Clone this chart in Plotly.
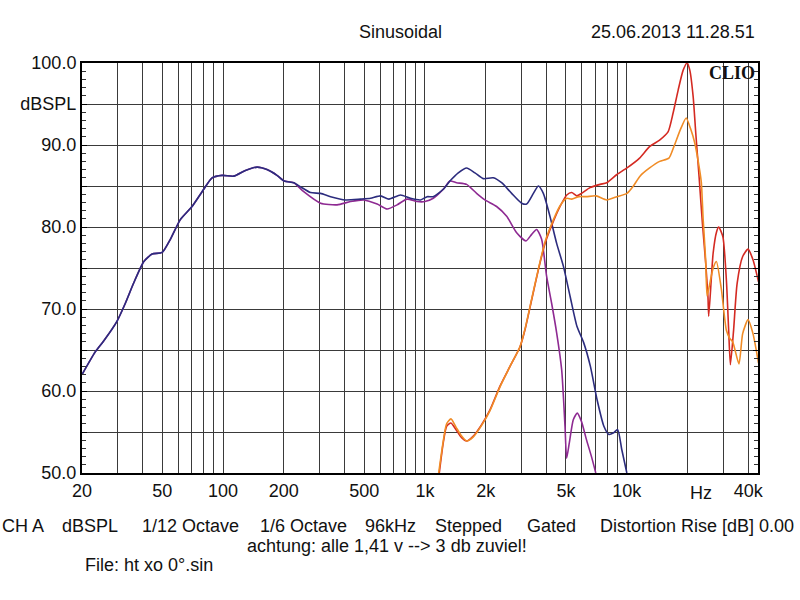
import math
import plotly.graph_objects as go

# ---------------- data ----------------
blue_f = [20, 23.3, 25.6, 29.8, 32.8, 36.1, 40.5, 44.5, 49.9, 54.8, 61.4, 70.2, 80.2, 88.2, 98.9,
          112.9, 129, 147.5, 165, 185, 201, 224, 242, 271, 304, 341, 404, 480, 538, 603, 663, 757,
          848, 952, 1025, 1100, 1233, 1330, 1463, 1609, 1770, 1946, 2182, 2399, 2690, 3015, 3192,
          3447, 3650, 3861, 4165, 4495, 4856, 5245, 5664, 6117, 6606, 7134, 7704, 8155, 8608, 9011,
          9459, 10010]
blue_db = [62.0, 64.8, 66.1, 68.5, 70.7, 73.2, 75.8, 76.7, 76.9, 78.5, 80.9, 82.5, 84.6, 86.0, 86.3,
           86.2, 86.9, 87.3, 87.0, 86.3, 85.6, 85.4, 84.9, 84.2, 84.1, 83.7, 83.3, 83.4, 83.5, 83.8, 83.4, 83.9,
           83.5, 83.3, 83.7, 83.7, 84.6, 85.6, 86.6, 87.2, 86.6, 85.9, 86.0, 85.4, 84.1, 82.9, 82.8,
           84.1, 85.0, 84.1, 81.3, 78.0, 75.2, 71.5, 67.9, 65.9, 63.0, 58.9, 55.7, 54.7, 54.9, 55.3,
           52.8, 50.0]

purple_f = [20, 23.3, 25.6, 29.8, 32.8, 36.1, 40.5, 44.5, 49.9, 54.8, 61.4, 70.2, 80.2, 88.2, 98.9,
            112.9, 129, 147.5, 165, 185, 201, 224, 251, 304, 367, 428, 498, 580, 650, 728, 815, 914,
            1000, 1100, 1233, 1330, 1436, 1609, 1803, 1983, 2266, 2542, 2848, 3167, 3379, 3577, 3787,
            4008, 4244, 4495, 4759, 4944, 5038, 5196, 5434, 5684, 5963, 6310, 6688, 7025]
purple_db = [62.0, 64.8, 66.1, 68.5, 70.7, 73.2, 75.8, 76.7, 76.9, 78.5, 80.9, 82.5, 84.6, 86.0, 86.3,
             86.2, 86.9, 87.3, 87.0, 86.3, 85.6, 85.4, 84.3, 82.9, 82.7, 83.1, 83.3, 82.8, 82.2, 82.7, 83.4, 83.1,
             83.1, 83.5, 84.6, 85.6, 85.4, 85.2, 84.1, 83.3, 82.5, 81.3, 79.3, 78.3, 79.1, 79.7, 78.5,
             74.0, 70.7, 67.1, 62.6, 55.7, 51.8, 53.7, 56.5, 57.3, 56.3, 54.1, 52.0, 50.0]

red_f = [1178, 1233, 1281, 1346, 1425, 1520, 1609, 1737, 1910, 2101, 2355, 2640, 2960, 3135, 3379,
         3650, 3938, 4333, 4672, 5045, 5338, 5648, 5975, 6573, 7378, 7963, 8938, 10028, 11575,
         12970, 14550, 16020, 16970, 17980, 19020, 19910, 20540, 21330, 21970, 22830, 23700,
         24610, 25260, 25470, 26790, 27850, 28550, 29950, 31170, 31990, 32630, 33830, 35220,
         37530, 39900, 42210, 44970]
red_db = [50.0, 53.7, 55.7, 56.1, 55.3, 54.3, 53.9, 54.5, 55.9, 57.7, 60.6, 63.0, 65.4, 67.5, 71.1,
          74.8, 78.0, 80.7, 82.5, 83.9, 84.2, 83.8, 84.1, 84.8, 85.2, 85.4, 86.4, 87.2, 88.4,
          89.8, 90.6, 91.6, 93.9, 96.7, 99.1, 100.0, 99.1, 95.9, 91.5, 86.1, 80.5,
          75.6, 71.5, 69.1, 76.8, 79.4, 80.0, 78.8, 73.5, 67.4, 63.2, 67.4, 73.1,
          76.4, 77.3, 76.0, 73.3]

orange_f = [1170, 1233, 1281, 1346, 1425, 1520, 1609, 1737, 1910, 2101, 2355, 2640, 2960, 3135, 3379,
            3650, 3938, 4333, 4672, 5045, 5338, 5800, 6300, 7050, 7960, 8938, 10028, 10790, 11630,
            12980, 14560, 16180, 17120, 18460, 19700, 20700, 21700, 22600, 23400, 23900, 24600,
            25000, 25500, 26800, 27800, 29400, 31170, 32400, 33500, 35970, 37530, 39900, 42210, 44970]
orange_db = [50.0, 53.9, 56.0, 56.6, 55.6, 54.5, 53.9, 54.4, 55.8, 57.6, 60.5, 63.0, 65.4, 67.6, 71.2,
             74.9, 78.2, 80.9, 82.6, 83.5, 83.4, 83.7, 83.7, 83.8, 83.3, 83.7, 84.1, 85.0, 86.2,
             87.2, 88.0, 88.4, 89.8, 91.9, 93.3, 92.0, 90.3, 88.0, 85.5, 81.0, 76.0,
             71.6, 72.5, 75.0, 75.8, 72.5, 67.4, 66.4, 66.0, 63.3, 67.0, 68.7, 67.0, 63.4]

x_tick_vals = [20, 30, 40, 50, 60, 70, 80, 90, 100, 200, 300, 400, 500, 600, 700, 800, 900,
               1000, 2000, 3000, 4000, 5000, 6000, 7000, 8000, 9000, 10000, 20000, 30000, 40000]
x_tick_text = ["20", "", "", "50", "", "", "", "", "100", "200", "", "", "500", "", "", "", "",
               "1k", "2k", "", "", "5k", "", "", "", "", "10k", "", "", "40k"]
y_tick_vals = [50, 55, 60, 65, 70, 75, 80, 85, 90, 95, 100]
y_tick_text = ["50.0", "", "60.0", "", "70.0", "", "80.0", "", "90.0", "dBSPL", "100.0"]

footer_items = ["CH A", "dBSPL", "1/12 Octave", "1/6 Octave", "96kHz", "Stepped", "Gated",
                "Distortion Rise [dB] 0.00"]
footer_x = [0, 60, 140, 258, 363, 433, 525, 598]

# ---------------- layout helpers ----------------
W, H = 800, 600
L, R, T, B = 82, 758, 63, 473


def px(x):
    return (x - L) / (R - L)


def py(y):
    return (B - y) / (B - T)


FONT = "Liberation Sans, Arial, sans-serif"

fig = go.Figure()
series = [
    (purple_f, purple_db, "#8e2a92"),
    (blue_f, blue_db, "#2c2c7e"),
    (red_f, red_db, "#d42a22"),
    (orange_f, orange_db, "#f08c26"),
]
for f, db, col in series:
    assert len(f) == len(db)
    fig.add_trace(go.Scatter(x=f, y=db, mode="lines",
                             line=dict(color=col, width=1.6, shape="spline", smoothing=0.6),
                             showlegend=False, hoverinfo="skip"))

annotations = [
    dict(text="Sinusoidal", x=px(400), y=py(32), xanchor="center", yanchor="middle"),
    dict(text="25.06.2013 11.28.51", x=px(757), y=py(32), xanchor="right", yanchor="middle"),
    dict(text="achtung: alle 1,41 v --> 3 db zuviel!", x=px(387), y=py(546),
         xanchor="center", yanchor="middle"),
    dict(text="File: ht xo 0°.sin", x=px(83), y=py(565), xanchor="left", yanchor="middle"),
]
for t, xx in zip(footer_items, footer_x):
    annotations.append(dict(text=t, x=px(xx), y=py(526), xanchor="left", yanchor="middle"))
for a in annotations:
    a.update(xref="paper", yref="paper", showarrow=False,
             font=dict(family=FONT, size=18, color="#111"))

annotations.append(dict(text="Hz", xref="x", yref="paper", x=math.log10(23200), y=py(493),
                        xanchor="center", yanchor="middle", showarrow=False,
                        font=dict(family=FONT, size=18, color="#111")))
annotations.append(dict(text="<b>CLIO</b>", xref="paper", yref="paper", x=px(757), y=py(73),
                        xanchor="right", yanchor="middle", showarrow=False,
                        font=dict(family="Liberation Serif, Times New Roman, serif", size=18,
                                  color="#111")))

fig.update_layout(
    width=W, height=H,
    margin=dict(l=L, r=W - R, t=T, b=H - B, pad=0),
    paper_bgcolor="white", plot_bgcolor="white",
    annotations=annotations,
    xaxis=dict(type="log", range=[math.log10(20), math.log10(44700)],
               tickmode="array", tickvals=x_tick_vals, ticktext=x_tick_text,
               showgrid=True, gridcolor="#3a3a3a", gridwidth=1,
               showline=True, linecolor="black", linewidth=2, mirror=True,
               ticks="", zeroline=False,
               tickfont=dict(family=FONT, size=18, color="#111")),
    yaxis=dict(range=[50, 100], tickmode="array", tickvals=y_tick_vals, ticktext=y_tick_text,
               showgrid=True, gridcolor="#3a3a3a", gridwidth=1,
               showline=True, linecolor="black", linewidth=2, mirror="allticks",
               ticks="inside", ticklen=5, tickcolor="black",
               minor=dict(tickmode="linear", tick0=50, dtick=1, ticks="inside", ticklen=4,
                          tickcolor="#333", showgrid=False),
               zeroline=False,
               tickfont=dict(family=FONT, size=18, color="#111")),
)

fig.write_html("out.html")
